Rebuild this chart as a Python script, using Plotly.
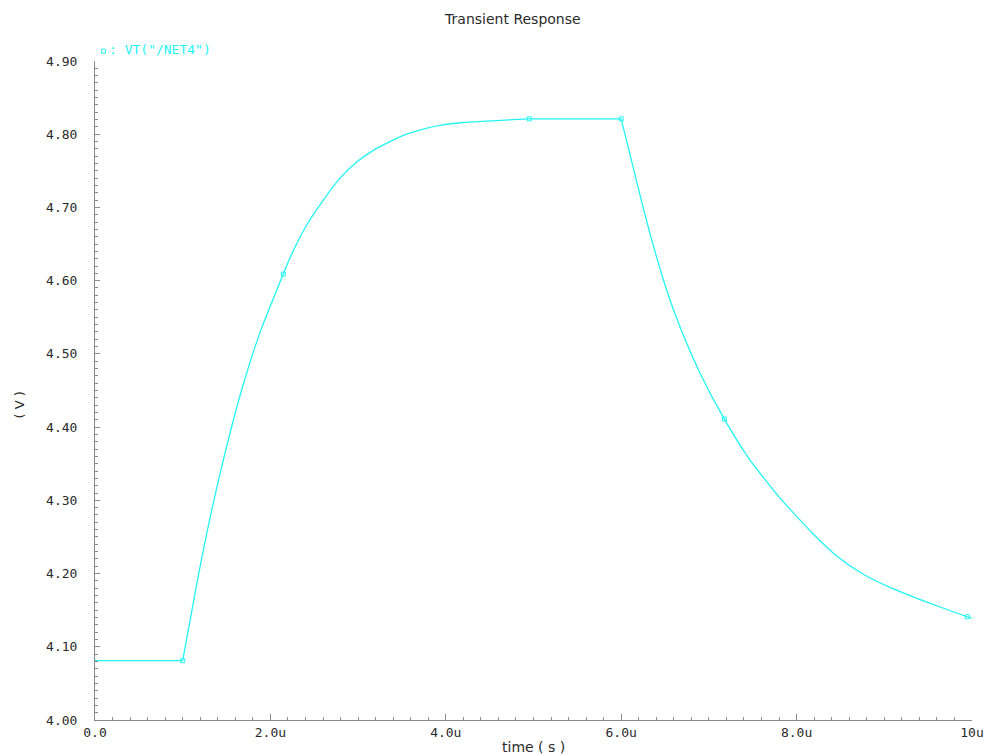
import plotly.graph_objects as go

# Transient waveform of node /NET4 (time in microseconds, voltage in volts)
time_us = [0.0, 1.0, 1.235, 1.445, 1.673, 1.881, 2.147, 2.223, 2.414, 2.603, 2.794,
           2.984, 3.173, 3.364, 3.554, 3.744, 3.934, 4.196, 4.952, 6.0, 6.138, 6.252,
           6.366, 6.519, 6.67, 6.898, 7.176, 7.469, 7.811, 7.925, 8.19, 8.457, 8.76,
           9.103, 9.484, 9.946, 10.0]
volts = [4.081, 4.081, 4.232, 4.346, 4.451, 4.529, 4.609, 4.631, 4.676, 4.710, 4.740,
         4.762, 4.778, 4.790, 4.800, 4.807, 4.812, 4.816, 4.821, 4.821, 4.754, 4.699,
         4.648, 4.587, 4.537, 4.474, 4.411, 4.355, 4.303, 4.288, 4.254, 4.224, 4.199,
         4.179, 4.161, 4.141, 4.139]

# Sample markers placed along the trace
marker_t = [1.0, 2.147, 4.952, 6.0, 7.176, 9.946]
marker_v = [4.081, 4.609, 4.821, 4.821, 4.411, 4.141]

x_tickvals = [0, 2, 4, 6, 8, 10]
x_ticktext = ["0.0", "2.0u", "4.0u", "6.0u", "8.0u", "10u"]
y_tickvals = [4.0, 4.1, 4.2, 4.3, 4.4, 4.5, 4.6, 4.7, 4.8, 4.9]
y_ticktext = ["4.00", "4.10", "4.20", "4.30", "4.40", "4.50", "4.60", "4.70", "4.80", "4.90"]

trace_name = ': VT("/NET4")'
cyan = "#22f4f4"
axis_grey = "#8a8a8a"
text_grey = "#2a2a2a"
label_font = dict(family="DejaVu Sans Mono", size=13, color=text_grey)

# Piecewise segments: flat parts drawn straight, exponential edges smoothed
rise_start, rise_end = time_us.index(1.0), time_us.index(4.952)
fall_start = time_us.index(6.0)
segments = [
    (0, rise_start + 1, "linear"),
    (rise_start, rise_end + 1, "spline"),
    (rise_end, fall_start + 1, "linear"),
    (fall_start, len(time_us), "spline"),
]

fig = go.Figure()
for lo, hi, shape in segments:
    fig.add_trace(go.Scatter(
        x=time_us[lo:hi], y=volts[lo:hi], mode="lines",
        line=dict(color=cyan, width=1.3, shape=shape, smoothing=0.6),
        showlegend=False, hoverinfo="skip",
    ))
fig.add_trace(go.Scatter(
    x=marker_t, y=marker_v, mode="markers",
    marker=dict(symbol="square-open", size=4, color=cyan, line=dict(width=1, color=cyan)),
    name="", showlegend=True,
))

fig.update_layout(
    width=992, height=755,
    margin=dict(l=95, r=20, t=61, b=35),
    paper_bgcolor="white", plot_bgcolor="white",
    title=dict(text="Transient Response", x=0.517, xanchor="center", y=0.975, yanchor="middle",
               font=dict(family="DejaVu Sans", size=14, color=text_grey)),
    legend=dict(x=-0.013, y=0.992, xanchor="left", yanchor="bottom",
                font=dict(family="DejaVu Sans Mono", size=13, color=cyan),
                bgcolor="rgba(0,0,0,0)", itemwidth=30, tracegroupgap=0),
    xaxis=dict(
        range=[0, 10], showgrid=False, zeroline=False, automargin=False,
        showline=True, linecolor=axis_grey, linewidth=1,
        tickmode="array", tickvals=x_tickvals, ticktext=x_ticktext,
        ticks="inside", ticklen=6, tickcolor=axis_grey, tickwidth=1,
        tickfont=label_font,
        minor=dict(dtick=0.2, ticks="inside", ticklen=3, tickcolor=axis_grey, showgrid=False),
    ),
    yaxis=dict(
        range=[4.0, 4.9], showgrid=False, zeroline=False, automargin=False,
        showline=True, linecolor=axis_grey, linewidth=1,
        tickmode="array", tickvals=y_tickvals, ticktext=y_ticktext,
        ticks="inside", ticklen=5, tickcolor=axis_grey, tickwidth=1,
        tickfont=label_font, ticklabelstandoff=14,
        minor=dict(dtick=0.01, tick0=4.0, ticks="inside", ticklen=3, tickcolor=axis_grey, showgrid=False),
    ),
    annotations=[
        dict(text=trace_name, xref="paper", yref="paper", x=0.014, y=1.017,
             xanchor="left", yanchor="middle", showarrow=False,
             font=dict(family="DejaVu Sans Mono", size=13, color=cyan)),
        dict(text="time ( s )", xref="paper", yref="paper", x=0.5, y=-0.041,
             xanchor="center", yanchor="middle", showarrow=False,
             font=dict(family="DejaVu Sans", size=14, color=text_grey)),
        dict(text="( V )", xref="paper", yref="paper", x=-0.085, y=0.478,
             xanchor="center", yanchor="middle", textangle=-90, showarrow=False,
             font=dict(family="DejaVu Sans", size=13, color=text_grey)),
    ],
)

fig.write_html("out.html")
